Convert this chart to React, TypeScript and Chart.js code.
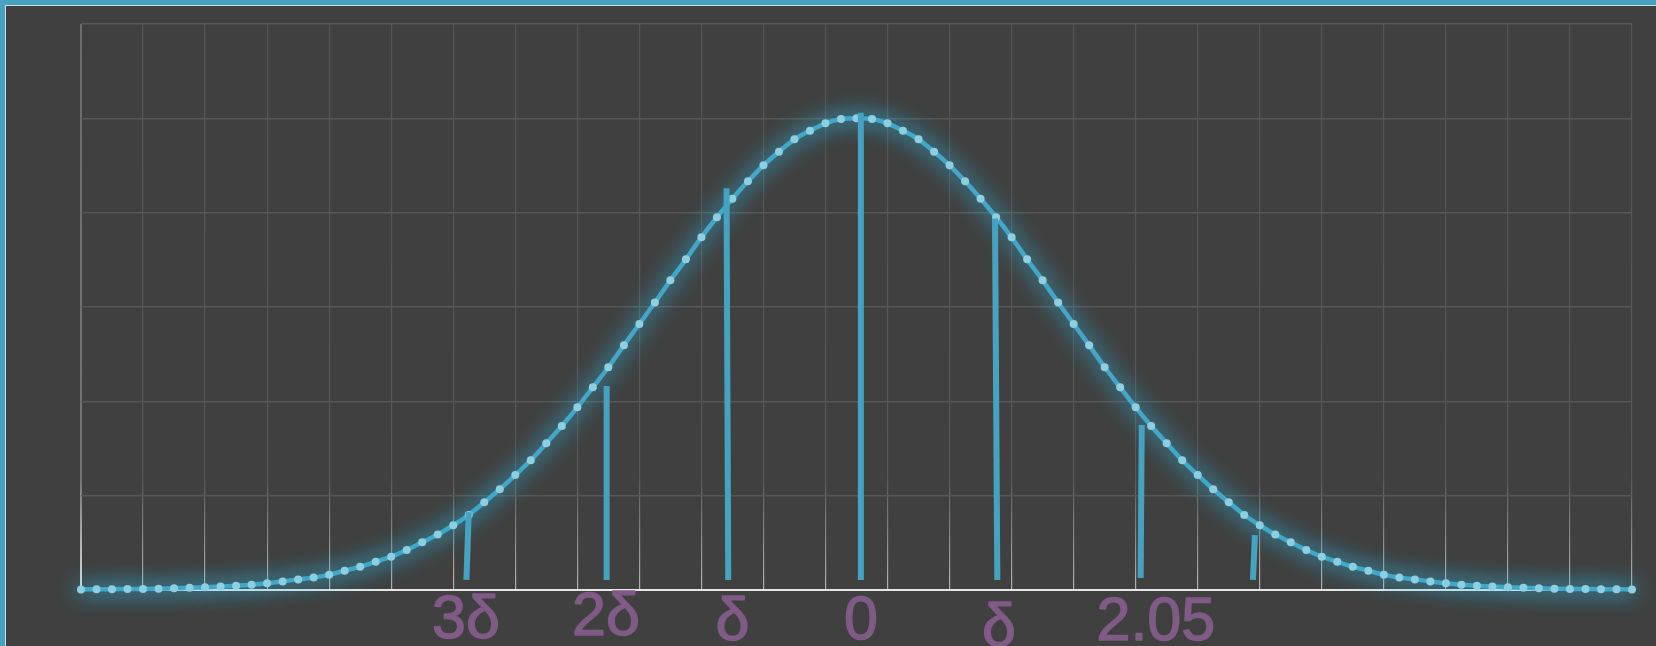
import React, { useEffect, useRef } from "react";
import { Chart, registerables } from "chart.js";

Chart.register(...registerables);

// Bell curve (x = point index 0..100)
const curveValues: number[] = [
  0.0005, 0.0006, 0.0007, 0.0008, 0.0009, 0.0011, 0.0014, 0.0019, 0.0023, 0.0030,
  0.0036, 0.0045, 0.0057, 0.0073, 0.0090, 0.0105, 0.0130, 0.0164, 0.0198, 0.0240,
  0.0283, 0.0339, 0.0405, 0.0470, 0.0549, 0.0636, 0.0744, 0.0854, 0.0975, 0.1100,
  0.1244, 0.1391, 0.1549, 0.1719, 0.1889, 0.2075, 0.2256, 0.2438, 0.2626, 0.2804,
  0.2991, 0.3161, 0.3318, 0.3466, 0.3602, 0.3717, 0.3822, 0.3895, 0.3958, 0.3994,
  0.4000,
  0.3994, 0.3958, 0.3895, 0.3822, 0.3717, 0.3602, 0.3466, 0.3318, 0.3161, 0.2991,
  0.2804, 0.2626, 0.2438, 0.2256, 0.2075, 0.1889, 0.1719, 0.1549, 0.1391, 0.1244,
  0.1100, 0.0975, 0.0854, 0.0744, 0.0636, 0.0549, 0.0470, 0.0405, 0.0339, 0.0283,
  0.0240, 0.0198, 0.0164, 0.0130, 0.0105, 0.0090, 0.0073, 0.0057, 0.0045, 0.0036,
  0.0030, 0.0023, 0.0019, 0.0014, 0.0011, 0.0009, 0.0008, 0.0007, 0.0006, 0.0005,
];

// Vertical marker segments
const markerBottomX: number[] = [24.85, 33.89, 41.73, 50.28, 59.08, 68.32, 75.56];
const markerTopX: number[] = [25.0, 33.89, 41.62, 50.28, 58.93, 68.39, 75.69];
const markerBottomY: number[] = [0.0085, 0.0085, 0.0085, 0.0085, 0.0085, 0.0102, 0.0085];
const markerTopY: number[] = [0.0661, 0.173, 0.3407, 0.4048, 0.315, 0.1399, 0.0466];

// Labels under the axis
const tickLabels: string[] = ["3δ", "2δ", "δ", "0", "δ", "2.05"];
const labelX: number[] = [24.82, 33.85, 42.0, 50.29, 59.19, 69.3];
const labelY: number[] = [-0.0407, -0.0382, -0.0424, -0.0416, -0.0475, -0.0424];

const CURVE_COLOR = "#44a5c4";
const POINT_COLOR = "#8fcfe0";
const MARKER_COLOR = "#45a3c1";
const LABEL_COLOR = "#7f5b86";

export default function App() {
  const canvasRef = useRef<HTMLCanvasElement | null>(null);

  useEffect(() => {
    const canvas = canvasRef.current;
    if (!canvas) return;

    const glowPlugin = {
      id: "glow",
      beforeDatasetDraw(chart: any, args: any) {
        if (args.meta && args.meta._dataset && args.meta._dataset.glow) {
          const ctx = chart.ctx;
          ctx.save();
          ctx.shadowColor = "rgba(55,200,250,1)";
          ctx.shadowBlur = 22;
        }
      },
      afterDatasetDraw(chart: any, args: any) {
        if (args.meta && args.meta._dataset && args.meta._dataset.glow) {
          chart.ctx.restore();
        }
      },
    };

    const labelPlugin = {
      id: "axisLabels",
      afterDraw(chart: any) {
        const ctx = chart.ctx;
        const xs = chart.scales.x;
        const ys = chart.scales.y;
        ctx.save();
        ctx.fillStyle = LABEL_COLOR;
        ctx.strokeStyle = LABEL_COLOR;
        ctx.lineWidth = 1.4;
        ctx.lineJoin = "round";
        ctx.font = '61px "Liberation Sans", Arial, sans-serif';
        ctx.textAlign = "center";
        ctx.textBaseline = "alphabetic";
        tickLabels.forEach((t, i) => {
          const px = xs.getPixelForValue(labelX[i]);
          const py = ys.getPixelForValue(labelY[i]);
          ctx.fillText(t, px, py);
          ctx.strokeText(t, px, py);
        });
        ctx.restore();
      },
    };

    const gridGradient = (c: any, first: boolean) => {
      const chart = c.chart;
      const area = chart.chartArea;
      if (!area) return "#555555";
      const g = chart.ctx.createLinearGradient(0, area.top, 0, area.bottom);
      g.addColorStop(0, first ? "#6c6c6c" : "#545454");
      g.addColorStop(0.8, first ? "#747474" : "#575757");
      g.addColorStop(1, first ? "#dddddd" : "#b4b4b4");
      return g;
    };

    const datasets: any[] = [
      {
        type: "line",
        glow: true,
        data: curveValues.map((v, i) => ({ x: i, y: v })),
        borderColor: CURVE_COLOR,
        borderWidth: 4.5,
        pointRadius: 4,
        pointBackgroundColor: POINT_COLOR,
        pointBorderWidth: 0,
        pointBorderColor: POINT_COLOR,
        tension: 0.3,
        clip: false,
        order: 2,
      },
      ...markerTopY.map((ty, i) => ({
        type: "line",
        data: [
          { x: markerBottomX[i], y: markerBottomY[i] },
          { x: markerTopX[i], y: ty },
        ],
        borderColor: MARKER_COLOR,
        borderWidth: 6,
        borderCapStyle: "butt",
        pointRadius: 0,
        tension: 0,
        clip: false,
        order: 1,
      })),
    ];

    const chart = new Chart(canvas, {
      type: "line",
      data: { datasets },
      plugins: [glowPlugin, labelPlugin],
      options: {
        animation: false,
        responsive: false,
        events: [],
        layout: { padding: { left: 75, top: 18, right: 24, bottom: 56 } },
        plugins: { legend: { display: false }, tooltip: { enabled: false } },
        scales: {
          x: {
            type: "linear",
            min: 0,
            max: 100,
            ticks: { display: false, stepSize: 4 },
            grid: {
              drawTicks: false,
              color: (c: any) => gridGradient(c, c.index === 0),
              lineWidth: (c: any) => (c.index === 0 ? 2 : 1.2),
            },
            border: { display: true, color: "#e6e6e6", width: 2 },
          },
          y: {
            type: "linear",
            min: 0,
            max: 0.48,
            ticks: { display: false, stepSize: 0.08 },
            grid: { drawTicks: false, color: "#575757", lineWidth: 1.5 },
            border: { display: false },
          },
        },
      } as any,
    });

    return () => chart.destroy();
  }, []);

  return (
    <div
      style={{
        position: "fixed",
        left: 0,
        top: 0,
        width: 1720,
        height: 720,
        boxSizing: "border-box",
        border: "5px solid #46a2c0",
        background: "#404040",
      }}
    >
      <div
        style={{
          position: "absolute",
          left: 0,
          top: 0,
          right: 0,
          bottom: 0,
          borderLeft: "1px solid #d3dde1",
          borderTop: "1px solid #d3dde1",
        }}
      >
        <canvas
          ref={canvasRef}
          width={1650}
          height={640}
          style={{ position: "absolute", left: 0, top: 0, width: 1650, height: 640 }}
        />
      </div>
    </div>
  );
}
